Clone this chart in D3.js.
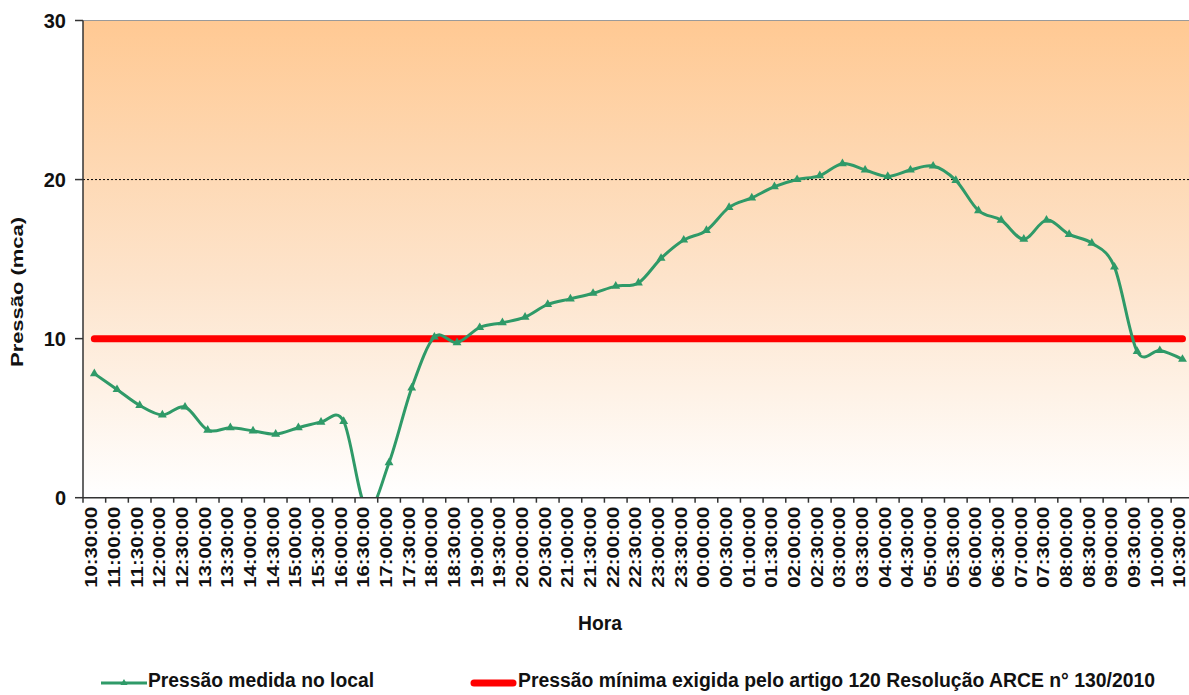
<!DOCTYPE html>
<html>
<head>
<meta charset="utf-8">
<script src="https://cdn.jsdelivr.net/npm/d3@7/dist/d3.min.js"></script>
<style>
  html, body { margin: 0; padding: 0; background: #fff; }
  svg { display: block; }
  text { font-family: "Liberation Sans", Arial, sans-serif; }
</style>
</head>
<body>
<svg id="chart" width="1189" height="695"></svg>
<script>
// ---------------- DATA ----------------
const categories = [
  "10:30:00","11:00:00","11:30:00","12:00:00","12:30:00","13:00:00","13:30:00",
  "14:00:00","14:30:00","15:00:00","15:30:00","16:00:00","16:30:00","17:00:00",
  "17:30:00","18:00:00","18:30:00","19:00:00","19:30:00","20:00:00","20:30:00",
  "21:00:00","21:30:00","22:00:00","22:30:00","23:00:00","23:30:00","00:00:00",
  "00:30:00","01:00:00","01:30:00","02:00:00","02:30:00","03:00:00","03:30:00",
  "04:00:00","04:30:00","05:00:00","05:30:00","06:00:00","06:30:00","07:00:00",
  "07:30:00","08:00:00","08:30:00","09:00:00","09:30:00","10:00:00","10:30:00"
];
const measuredPressure = [
  7.8, 6.8, 5.8, 5.2, 5.7, 4.25, 4.4,
  4.2, 4.0, 4.4, 4.75, 4.8, -0.7, 2.2,
  6.9, 10.1, 9.75, 10.7, 11.0, 11.35, 12.15,
  12.5, 12.85, 13.3, 13.5, 15.05, 16.2, 16.8,
  18.25, 18.85, 19.55, 20.0, 20.25, 21.0, 20.6,
  20.2, 20.6, 20.85, 19.95, 18.05, 17.45, 16.25,
  17.45, 16.55, 16.0, 14.5, 9.2, 9.25, 8.7
];
const minimumPressure = 10;
const yTicks = [0, 10, 20, 30];
const referenceLine = 20;
const seriesNames = ["Pressão medida no local", "Pressão mínima exigida pelo artigo 120 Resolução ARCE n° 130/2010"];
const xTitle = "Hora";
const yTitle = "Pressão (mca)";

// ---------------- LAYOUT ----------------
const svg = d3.select("#chart");
const plotLeft = 83, plotTop = 20.5, plotBottom = 497.7;
const band = 22.67;
const plotRight = plotLeft + band * categories.length;

// categories repeat ("10:30:00" twice), so the band scale is keyed by index
const x = d3.scaleBand().domain(d3.range(categories.length)).range([plotLeft, plotRight]).padding(0);
const cx = i => x(i) + x.bandwidth() / 2;
const y = d3.scaleLinear().domain([0, 30]).range([plotBottom, plotTop]);

const green = "#2f9a68";
const red = "#ff0000";

const defs = svg.append("defs");
const grad = defs.append("linearGradient").attr("id", "bg")
  .attr("x1", 0).attr("y1", 0).attr("x2", 0).attr("y2", 1);
grad.append("stop").attr("offset", "0%").attr("stop-color", "#ffc993");
grad.append("stop").attr("offset", "55%").attr("stop-color", "#fde4cc");
grad.append("stop").attr("offset", "100%").attr("stop-color", "#ffffff");

defs.append("clipPath").attr("id", "plotclip")
  .append("rect").attr("x", plotLeft).attr("y", plotTop - 6)
  .attr("width", plotRight - plotLeft).attr("height", plotBottom - plotTop + 6);

// background
svg.append("rect").attr("x", plotLeft).attr("y", plotTop)
  .attr("width", plotRight - plotLeft).attr("height", plotBottom - plotTop)
  .attr("fill", "url(#bg)");

// top border (30 line)
svg.append("line").attr("x1", plotLeft).attr("x2", plotRight)
  .attr("y1", y(30)).attr("y2", y(30))
  .attr("stroke", "#9a9a9a").attr("stroke-width", 1);

// dotted reference at 20
svg.append("line").attr("x1", plotLeft).attr("x2", plotRight)
  .attr("y1", y(referenceLine)).attr("y2", y(referenceLine))
  .attr("stroke", "#000").attr("stroke-width", 1)
  .attr("stroke-dasharray", "2,2");

// red minimum line
svg.append("line")
  .attr("x1", cx(0)).attr("x2", cx(categories.length - 1))
  .attr("y1", y(minimumPressure)).attr("y2", y(minimumPressure))
  .attr("stroke", red).attr("stroke-width", 7).attr("stroke-linecap", "round");

// green measured line
const plot = svg.append("g").attr("clip-path", "url(#plotclip)");
const line = d3.line()
  .x((d, i) => cx(i))
  .y(d => y(d))
  .curve(d3.curveCardinal.tension(0));
plot.append("path").datum(measuredPressure)
  .attr("d", line)
  .attr("fill", "none").attr("stroke", green).attr("stroke-width", 3)
  .attr("stroke-linejoin", "round");

const tri = d3.symbol().type(d3.symbolTriangle).size(34);
plot.selectAll("path.mk").data(measuredPressure).join("path")
  .attr("class", "mk")
  .attr("d", tri)
  .attr("transform", (d, i) => `translate(${cx(i)},${y(d)})`)
  .attr("fill", green);

// Y axis
svg.append("line").attr("x1", plotLeft).attr("x2", plotLeft)
  .attr("y1", plotTop).attr("y2", plotBottom)
  .attr("stroke", "#333").attr("stroke-width", 1.5);
const yg = svg.append("g");
yTicks.forEach(t => {
  yg.append("line").attr("x1", plotLeft - 8).attr("x2", plotLeft)
    .attr("y1", y(t)).attr("y2", y(t))
    .attr("stroke", "#333").attr("stroke-width", 1.5);
  yg.append("text").attr("x", 66).attr("y", y(t)).attr("dy", "0.36em")
    .attr("text-anchor", "end").attr("font-size", 20).attr("font-weight", "bold")
    .attr("fill", "#111").text(t);
});

// X axis
svg.append("line").attr("x1", plotLeft).attr("x2", plotRight)
  .attr("y1", plotBottom).attr("y2", plotBottom)
  .attr("stroke", "#333").attr("stroke-width", 1.5);
const xg = svg.append("g");
categories.forEach((c, i) => {
  xg.append("line").attr("x1", x(i)).attr("x2", x(i))
    .attr("y1", plotBottom).attr("y2", plotBottom + 5)
    .attr("stroke", "#333").attr("stroke-width", 1.5);
  xg.append("text")
    .attr("transform", `translate(${cx(i) + 3},${plotBottom + 9}) rotate(-90)`)
    .attr("text-anchor", "end").attr("font-size", 16.5).attr("font-weight", "bold")
    .attr("textLength", 81).attr("lengthAdjust", "spacingAndGlyphs")
    .attr("fill", "#111").text(c);
});

// axis titles
svg.append("text").attr("x", 600).attr("y", 630).attr("text-anchor", "middle")
  .attr("font-size", 20).attr("font-weight", "bold").attr("fill", "#111")
  .attr("textLength", 44).attr("lengthAdjust", "spacingAndGlyphs")
  .text(xTitle);
svg.append("text")
  .attr("transform", `translate(23,292) rotate(-90)`)
  .attr("text-anchor", "middle").attr("font-size", 16).attr("font-weight", "bold")
  .attr("fill", "#111")
  .attr("textLength", 150).attr("lengthAdjust", "spacingAndGlyphs")
  .text(yTitle);

// legend
const lg = svg.append("g");
lg.append("line").attr("x1", 101).attr("x2", 147).attr("y1", 683).attr("y2", 683)
  .attr("stroke", green).attr("stroke-width", 3);
lg.append("path").attr("d", d3.symbol().type(d3.symbolTriangle).size(22))
  .attr("transform", "translate(124,683)").attr("fill", green);
lg.append("text").attr("x", 148).attr("y", 687).attr("font-size", 20)
  .attr("font-weight", "bold").attr("fill", "#111")
  .attr("textLength", 226).attr("lengthAdjust", "spacingAndGlyphs")
  .text(seriesNames[0]);
lg.append("line").attr("x1", 474).attr("x2", 513).attr("y1", 683).attr("y2", 683)
  .attr("stroke", red).attr("stroke-width", 7).attr("stroke-linecap", "round");
lg.append("text").attr("x", 518).attr("y", 687).attr("font-size", 20)
  .attr("font-weight", "bold").attr("fill", "#111")
  .attr("textLength", 637).attr("lengthAdjust", "spacingAndGlyphs")
  .text(seriesNames[1]);
</script>
</body>
</html>
